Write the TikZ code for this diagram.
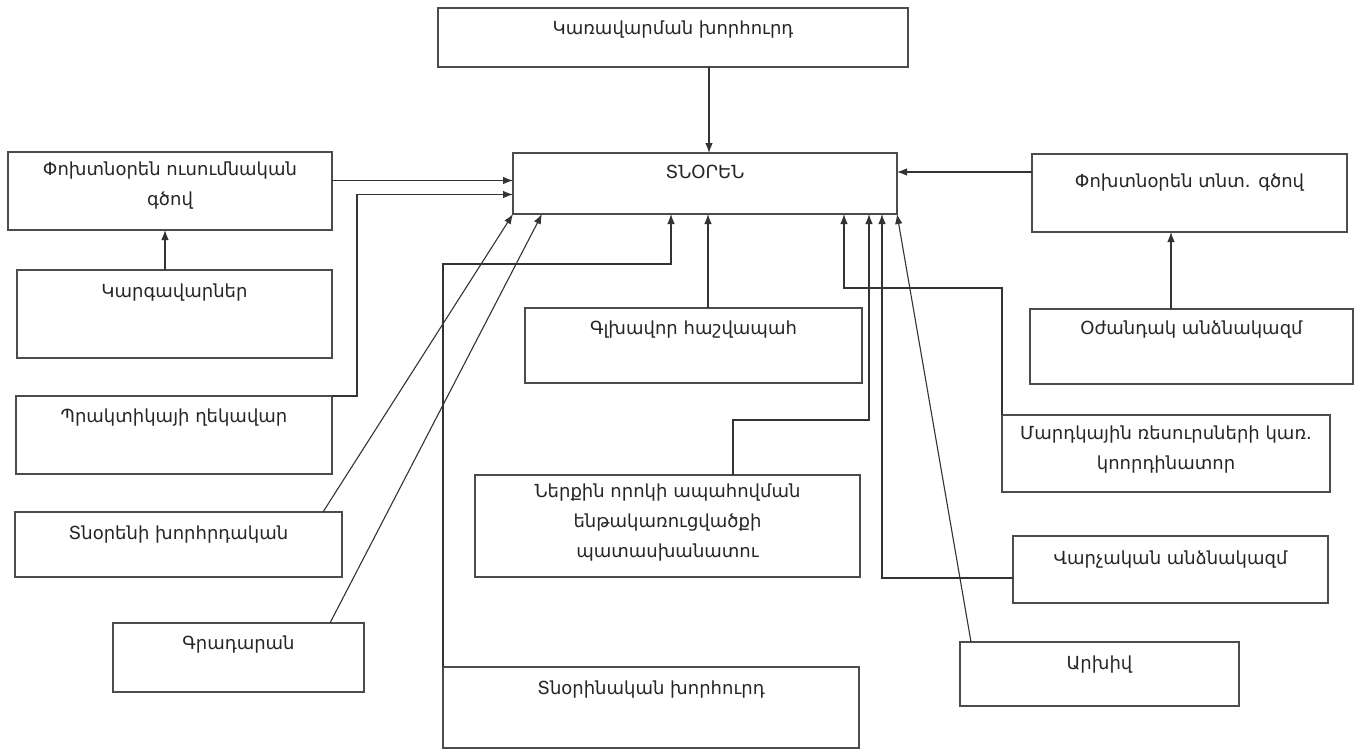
\documentclass[tikz,border=0pt]{standalone}
\usepackage{fontspec}
\setmainfont{DejaVu Sans}
\usetikzlibrary{arrows.meta,calc}
\begin{document}
\begin{tikzpicture}[x=1pt,y=-1pt,
  box/.style={draw=black!70, line width=1.2pt, inner sep=0pt, outer sep=0pt, anchor=north west, fill=white},
  txt/.style={font=\fontsize{18}{30}\selectfont, text=black!85, align=center, inner sep=0pt},
  arr/.style={draw=black!80, line width=1.1pt, -{Latex[length=10pt,width=7.5pt]}},
  ln/.style={draw=black!80, line width=1pt}]
\useasboundingbox (0,0) rectangle (1356,749);
% boxes: (x1,y1) size w x h, label offset
\newcommand{\mybox}[7]{%
  \node[box, minimum width=#4, minimum height=#5] (#1) at (#2,#3) {};
  \node[txt] (#1t) at ($(#1.north)+(0,#6)$) {#7};}
\mybox{kar}{438}{8}{470}{59}{22}{Կառավարման խորհուրդ}
\mybox{dir}{513}{153}{384}{61}{19}{ՏՆՕՐԵՆ}
\mybox{vu}{8}{152}{324}{78}{34}{Փոխտնօրեն ուսումնական\\գծով}
\mybox{karg}{17}{270}{315}{88}{23}{Կարգավարներ}
\mybox{prak}{16}{396}{316}{78}{22}{Պրակտիկայի ղեկավար}
\mybox{khor}{15}{512}{327}{65}{23}{Տնօրենի խորհրդական}
\mybox{grad}{113}{623}{251}{69}{22}{Գրադարան}
\mybox{glkh}{525}{308}{337}{75}{22}{Գլխավոր հաշվապահ}
\mybox{nerq}{475}{475}{385}{102}{48}{Ներքին որոկի ապահովման\\ենթակառուցվածքի\\պատասխանատու}
\mybox{tnor}{443}{667}{416}{81}{23}{Տնօրինական  խորհուրդ}
\mybox{vt}{1032}{154}{315}{78}{29}{Փոխտնօրեն տնտ. գծով}
\mybox{ozh}{1030}{309}{323}{75}{21}{Օժանդակ անձնակազմ}
\mybox{mard}{1002}{415}{328}{77}{35}{Մարդկային ռեսուրսների կառ.\\կոորդինատոր}
\mybox{varch}{1013}{536}{315}{67}{24}{Վարչական  անձնակազմ}
\mybox{arkh}{960}{642}{279}{64}{23}{Արխիվ}
% connectors
\draw[arr] ([xshift=36pt]kar.south) -- ([xshift=36pt]kar.south |- dir.north);
\draw[arr] ([yshift=3pt]dir.west -| vu.east) -- ([yshift=3pt]dir.west);
\draw[arr] (prak.north east) -- ++(25,0) |- ([yshift=-11pt]dir.west);
\draw[arr] ([xshift=-9.5pt]karg.north) -- ([xshift=-9.5pt]karg.north |- vu.south);
\draw[arr] ([xshift=-19pt]khor.north east) -- (dir.south west);
\draw[arr] ([xshift=-34pt]grad.north east) -- ([xshift=29pt]dir.south west);
\draw[arr] (tnor.north west) -- ++(0,-403) -| ([xshift=158pt]dir.south west);
\draw[arr] ([xshift=14.5pt]glkh.north) -- ([xshift=14.5pt]glkh.north |- dir.south);
\draw[arr] ([xshift=65.5pt]nerq.north) -- ++(0,-55) -| ([xshift=-28pt]dir.south east);
\draw[arr] (mard.north west) -- ++(0,-127) -| ([xshift=-53pt]dir.south east);
\draw[arr] ([yshift=-8.5pt]varch.west) -| ([xshift=-15pt]dir.south east);
\draw[arr] ([xshift=11pt]arkh.north west) -- (dir.south east);
\draw[arr] ([yshift=21pt]vt.west) -- ([yshift=21pt]vt.west -| dir.east);
\draw[arr] ([xshift=-20.5pt]ozh.north) -- ([xshift=-20.5pt]ozh.north |- vt.south);
\end{tikzpicture}
\end{document}
